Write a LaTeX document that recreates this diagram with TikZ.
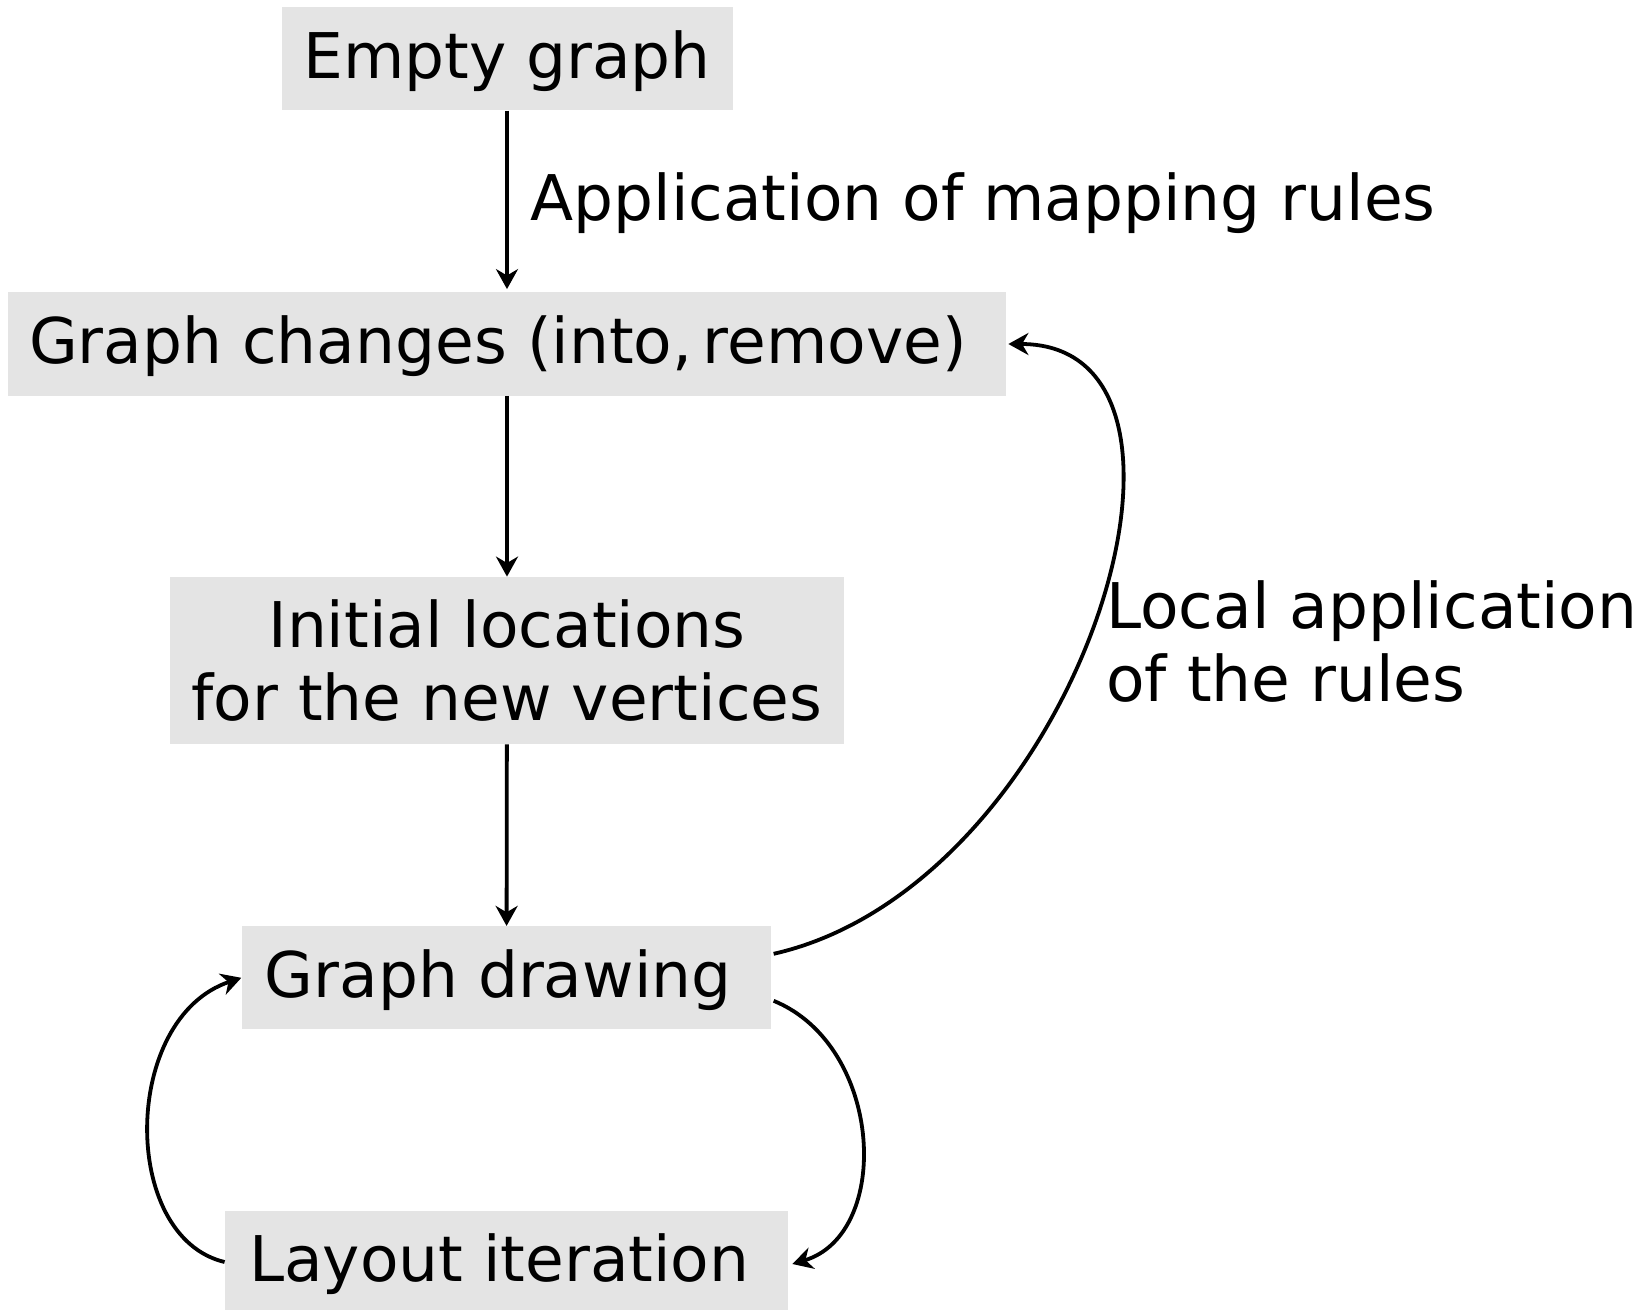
\documentclass[tikz,border=0pt]{standalone}
\usepackage{fontspec}
\setmainfont{DejaVu Sans}
\usetikzlibrary{arrows.meta}
\definecolor{boxgray}{RGB}{228,228,228}
\begin{document}
\begin{tikzpicture}[x=0.5pt,y=-0.5pt,
  every node/.style={font=\fontsize{31.5pt}{36.75pt}\selectfont, inner sep=0pt},
  box/.style={fill=boxgray, text height=25.5pt, text depth=6pt, minimum height=51.5pt, inner ysep=0pt},
  conn/.style={line width=1.9pt, -{Stealth[length=10pt,width=11pt,inset=3.2pt]}}]
\useasboundingbox (0,0) rectangle (1647,1310);
\node[box, inner xsep=11.5pt] (eg) at (507,58.7) {\makebox[202.5pt][c]{Empty graph}};
\node[box, inner xsep=10.5pt] (gc) at (507,344) {\makebox[478pt][l]{Graph changes (into,\,remove)}};
\node[fill=boxgray, inner xsep=0pt, align=center, minimum width=336.75pt, minimum height=83.5pt] (il) at (507,660.5) {Initial locations\\for the new vertices};
\node[box, inner xsep=11.5pt] (gd) at (506.5,977.8) {\makebox[241.75pt][l]{Graph drawing}};
\node[box, inner xsep=12pt] (li) at (506.5,1262) {\makebox[257.5pt][l]{Layout iteration}};
\node[anchor=base west] (l1) at (530,220.6) {Application of mapping rules};
\node[anchor=north west, align=left] (l2) at (1106,580) {Local application\\of the rules};
\draw[conn, shorten >=1.5pt] (eg) -- (gc);
\draw[conn] (gc) -- (il);
\draw[conn] (il) -- (gd);
\draw[conn] ([xshift=1pt,yshift=12pt]gd.east) .. controls +(305,-69) and +(235,0) .. ([xshift=1pt]gc.east);
\draw[conn] ([xshift=1pt,yshift=-11.5pt]gd.east) .. controls +(110,45) and +(100,-30) .. ([xshift=2pt,yshift=-1pt]li.east);
\draw[conn] (li.west) .. controls +(-105,-25) and +(-120,40) .. (gd.west);
\end{tikzpicture}
\end{document}
